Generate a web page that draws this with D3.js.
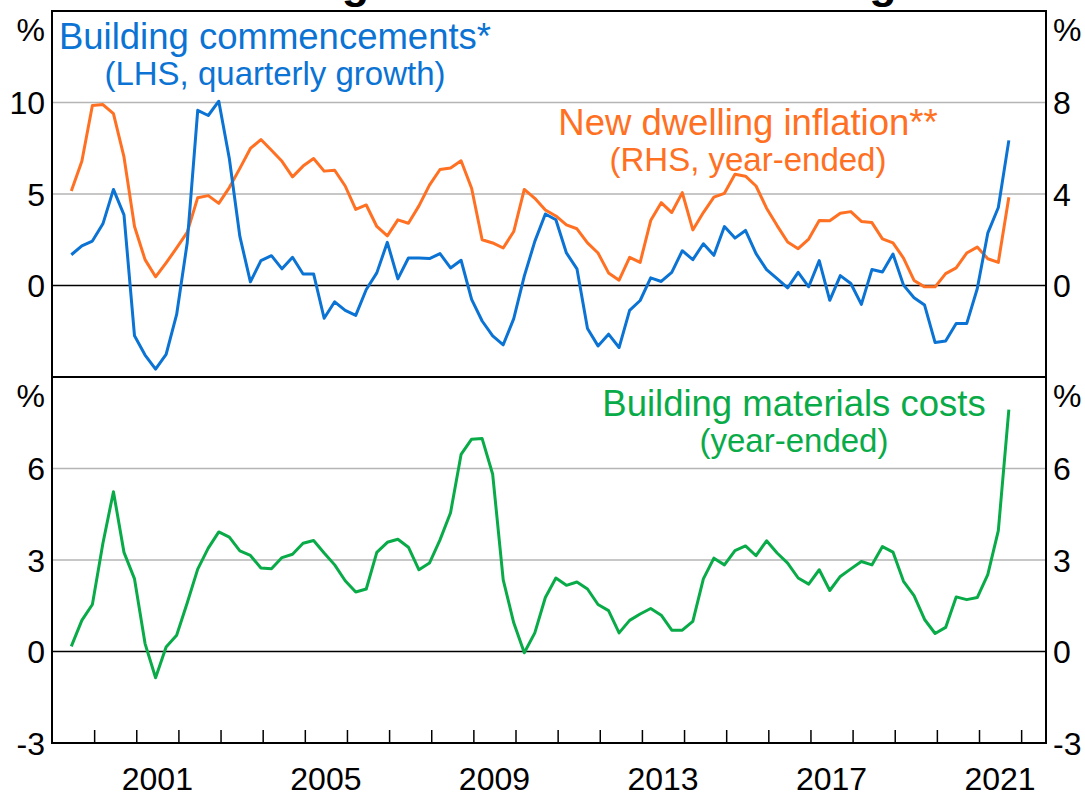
<!DOCTYPE html>
<html>
<head>
<meta charset="utf-8">
<script src="https://cdn.jsdelivr.net/npm/d3@7"></script>
<style>
  body { margin: 0; background: #fff; }
  text { font-family: "Liberation Sans", Arial, sans-serif; }
</style>
</head>
<body>
<div id="chart"></div>
<script>
// first quarter shown is June 1999, quarterly to September 2021
let startYear = 1999, startQuarter = 2;

let commencements = [1.68, 2.17, 2.43, 3.37, 5.25, 3.86, -2.75, -3.8, -4.57, -3.77,
  -1.58, 2.32, 9.57, 9.29, 10.07, 6.94, 2.68, 0.2, 1.36, 1.63,
  0.91, 1.54, 0.63, 0.63, -1.79, -0.89, -1.36, -1.63, -0.22, 0.69,
  2.36, 0.36, 1.5, 1.5, 1.47, 1.74, 0.96, 1.38, -0.76, -1.94,
  -2.75, -3.24, -1.81, 0.51, 2.41, 3.91, 3.59, 1.78, 0.91, -2.35,
  -3.3, -2.66, -3.39, -1.36, -0.82, 0.42, 0.22, 0.72, 1.9, 1.41,
  2.28, 1.65, 3.22, 2.59, 3.01, 1.74, 0.87, 0.38, -0.13, 0.72,
  -0.07, 1.36, -0.81, 0.54, 0.11, -1.03, 0.87, 0.74, 1.72, 0.02,
  -0.67, -1.07, -3.12, -3.03, -2.08, -2.08, -0.18, 2.86, 4.26, 7.93];

let dwellingInflation = [4.13, 5.43, 7.87, 7.91, 7.51, 5.62, 2.58, 1.13, 0.38, 0.99,
  1.64, 2.32, 3.84, 3.93, 3.59, 4.28, 5.12, 5.99, 6.38, 5.91,
  5.43, 4.75, 5.22, 5.55, 5.0, 5.04, 4.35, 3.33, 3.52, 2.58,
  2.17, 2.87, 2.72, 3.48, 4.39, 5.07, 5.14, 5.45, 4.25, 2.0,
  1.86, 1.64, 2.36, 4.2, 3.81, 3.3, 3.04, 2.65, 2.48, 1.86,
  1.42, 0.55, 0.23, 1.23, 1.01, 2.84, 3.62, 3.19, 4.06, 2.43,
  3.19, 3.86, 4.03, 4.86, 4.78, 4.35, 3.38, 2.62, 1.9, 1.61,
  2.03, 2.84, 2.83, 3.16, 3.23, 2.8, 2.75, 2.04, 1.86, 1.2,
  0.22, -0.06, -0.06, 0.52, 0.77, 1.42, 1.68, 1.17, 1.01, 3.86];

let materialsCosts = [0.17, 1.02, 1.54, 3.55, 5.24, 3.25, 2.38, 0.26, -0.86, 0.15,
  0.53, 1.59, 2.7, 3.39, 3.92, 3.75, 3.3, 3.15, 2.74, 2.71,
  3.08, 3.19, 3.55, 3.64, 3.23, 2.84, 2.32, 1.95, 2.05, 3.25,
  3.58, 3.68, 3.42, 2.68, 2.9, 3.66, 4.55, 6.46, 6.96, 6.98,
  5.81, 2.35, 0.94, -0.04, 0.61, 1.77, 2.41, 2.17, 2.28, 2.05,
  1.54, 1.34, 0.61, 1.02, 1.23, 1.41, 1.19, 0.7, 0.7, 0.99,
  2.38, 3.06, 2.84, 3.31, 3.46, 3.14, 3.63, 3.23, 2.9, 2.41,
  2.21, 2.68, 2.0, 2.46, 2.71, 2.95, 2.84, 3.44, 3.26, 2.3,
  1.83, 1.05, 0.59, 0.79, 1.79, 1.7, 1.77, 2.52, 3.96, 7.93];

let topLeftTicks = [0, 5, 10];
let topRightTicks = [0, 4, 8];
let bottomTicks = [-3, 0, 3, 6];
let yearLabels = [2001, 2005, 2009, 2013, 2017, 2021];

let width = 1085, height = 796;
let plotLeft = 52, plotRight = 1046, plotTop = 11, plotMid = 377, plotBottom = 743;

let blue = "#0b73d3", orange = "#ff7022", green = "#09ab48", grid = "#b5b5b5";

// quarter -> decimal year (plotted at the middle of the quarter's last month)
let quarters = commencements.map(function(v, i) {
  let q = startQuarter - 1 + i;
  let yr = startYear + Math.floor(q / 4);
  let endMonth = (q % 4) * 3 + 3;
  return yr + (endMonth - 0.5) / 12;
});

let svg = d3.select("#chart")
  .append("svg")
  .attr("width", width)
  .attr("height", height);

let x = d3.scaleLinear().domain([1999, 2022.59]).range([plotLeft, plotRight]);
let yTopL = d3.scaleLinear().domain([-5, 15]).range([plotMid, plotTop]);
let yTopR = d3.scaleLinear().domain([-4, 12]).range([plotMid, plotTop]);
let yBot = d3.scaleLinear().domain([-3, 9]).range([plotBottom, plotMid]);

// title (cut off by the top of the picture, only descenders show)
svg.append("text")
  .attr("x", 543)
  .attr("y", -2)
  .attr("text-anchor", "middle")
  .style("font-size", "45px")
  .style("font-weight", "bold")
  .text("Building Costs and New Housing");

// gridlines
svg.append("g").selectAll("line")
  .data([5, 10])
  .enter().append("line")
  .attr("x1", plotLeft).attr("x2", plotRight)
  .attr("y1", function(d) { return yTopL(d); })
  .attr("y2", function(d) { return yTopL(d); })
  .attr("stroke", grid).attr("stroke-width", 1.5);

svg.append("g").selectAll("line")
  .data([3, 6])
  .enter().append("line")
  .attr("x1", plotLeft).attr("x2", plotRight)
  .attr("y1", function(d) { return yBot(d); })
  .attr("y2", function(d) { return yBot(d); })
  .attr("stroke", grid).attr("stroke-width", 1.5);

// zero lines
svg.append("line")
  .attr("x1", plotLeft).attr("x2", plotRight)
  .attr("y1", yTopL(0)).attr("y2", yTopL(0))
  .attr("stroke", "#000").attr("stroke-width", 1.5);
svg.append("line")
  .attr("x1", plotLeft).attr("x2", plotRight)
  .attr("y1", yBot(0)).attr("y2", yBot(0))
  .attr("stroke", "#000").attr("stroke-width", 1.5);

// lines
let lineTopL = d3.line()
  .x(function(d, i) { return x(quarters[i]); })
  .y(function(d) { return yTopL(d); });
let lineTopR = d3.line()
  .x(function(d, i) { return x(quarters[i]); })
  .y(function(d) { return yTopR(d); });
let lineBot = d3.line()
  .x(function(d, i) { return x(quarters[i]); })
  .y(function(d) { return yBot(d); });

svg.append("path")
  .datum(dwellingInflation)
  .attr("fill", "none")
  .attr("stroke", orange)
  .attr("stroke-width", 3)
  .attr("stroke-linejoin", "round")
  .attr("d", lineTopR);

svg.append("path")
  .datum(commencements)
  .attr("fill", "none")
  .attr("stroke", blue)
  .attr("stroke-width", 3)
  .attr("stroke-linejoin", "round")
  .attr("d", lineTopL);

svg.append("path")
  .datum(materialsCosts)
  .attr("fill", "none")
  .attr("stroke", green)
  .attr("stroke-width", 3)
  .attr("stroke-linejoin", "round")
  .attr("d", lineBot);

// frame
let frame = svg.append("g")
  .attr("stroke", "#000")
  .attr("stroke-width", 2)
  .attr("fill", "none");
frame.append("rect")
  .attr("x", plotLeft).attr("y", plotTop)
  .attr("width", plotRight - plotLeft).attr("height", plotBottom - plotTop);
frame.append("line")
  .attr("x1", plotLeft).attr("x2", plotRight)
  .attr("y1", plotMid).attr("y2", plotMid);

// x axis: ticks at year boundaries, labels centred on the year
let xAxis = d3.axisBottom(x)
  .tickValues(d3.range(2000, 2023))
  .tickSize(-13)
  .tickFormat("");
svg.append("g")
  .attr("transform", "translate(0," + plotBottom + ")")
  .call(xAxis)
  .call(function(g) { g.select(".domain").remove(); })
  .call(function(g) { g.selectAll(".tick line").attr("stroke", "#000").attr("stroke-width", 1.5); });

svg.append("g").selectAll("text")
  .data(yearLabels)
  .enter().append("text")
  .attr("x", function(d) { return x(d + 0.5); })
  .attr("y", 790)
  .attr("text-anchor", "middle")
  .style("font-size", "32px")
  .text(function(d) { return d; });

// y tick labels
function tickLabels(ticks, scale, xPos, anchor) {
  svg.append("g").selectAll("text")
    .data(ticks)
    .enter().append("text")
    .attr("x", xPos)
    .attr("y", function(d) { return scale(d); })
    .attr("dy", "0.36em")
    .attr("text-anchor", anchor)
    .style("font-size", "32px")
    .text(function(d) { return d; });
}
tickLabels(topLeftTicks, yTopL, plotLeft - 7, "end");
tickLabels(topRightTicks, yTopR, plotRight + 7, "start");
tickLabels(bottomTicks, yBot, plotLeft - 7, "end");
tickLabels(bottomTicks, yBot, plotRight + 7, "start");

[[plotTop, plotLeft - 7, "end"], [plotTop, plotRight + 7, "start"],
 [plotMid, plotLeft - 7, "end"], [plotMid, plotRight + 7, "start"]]
  .forEach(function(p) {
    svg.append("text")
      .attr("x", p[1])
      .attr("y", p[0] + 30)
      .attr("text-anchor", p[2])
      .style("font-size", "32px")
      .text("%");
  });

// series labels: a larger first line and a smaller note underneath
function seriesLabel(lines, cx, y0, colour) {
  lines.forEach(function(t, i) {
    svg.append("text")
      .attr("x", cx)
      .attr("y", y0 + i * 36)
      .attr("text-anchor", "middle")
      .attr("fill", colour)
      .style("font-size", i === 0 ? "36.5px" : "33px")
      .text(t);
  });
}
seriesLabel(["Building commencements*", "(LHS, quarterly growth)"], 275, 49, blue);
seriesLabel(["New dwelling inflation**", "(RHS, year-ended)"], 748, 135, orange);
seriesLabel(["Building materials costs", "(year-ended)"], 794, 416, green);
</script>
</body>
</html>
